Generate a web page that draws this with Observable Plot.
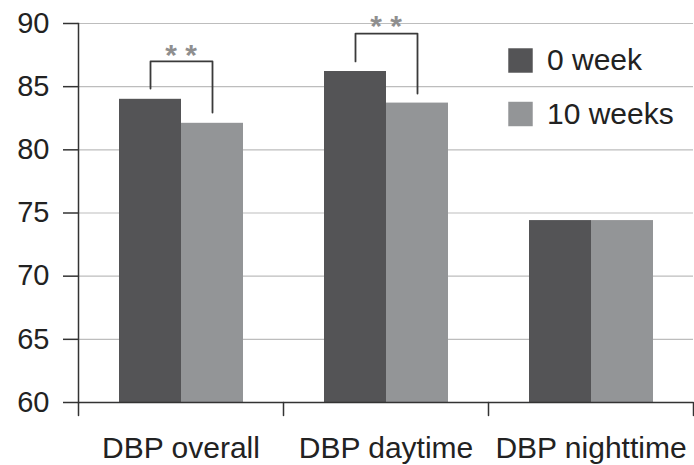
<!DOCTYPE html>
<html><head><meta charset="utf-8">
<script src="https://cdn.jsdelivr.net/npm/d3@7"></script>
<script src="https://cdn.jsdelivr.net/npm/@observablehq/plot@0.6"></script>
<style>
body{margin:0;background:#fff}
svg{font-family:"Liberation Sans",Arial,Helvetica,sans-serif}
</style>
</head><body><div id="chart"></div>
<script>
const categories = ["DBP overall", "DBP daytime", "DBP nighttime"];
const series = ["0 week", "10 weeks"];
const week0 = [84.0, 86.2, 74.4];
const week10 = [82.1, 83.7, 74.4];
const yTicks = [60, 65, 70, 75, 80, 85, 90];
const colors = ["#545456", "#939597"];
const bracketCats = ["DBP overall", "DBP daytime"];
const bracketTop = [87.0, 89.2];
const bracketLeftEnd = [84.85, 87.0];
const bracketRightEnd = [82.95, 84.45];
const starY = [87.5, 89.75];
const starText = ["* *", "* *"];

const bars = categories.flatMap((c, i) => [
  {cat: c, series: series[0], value: week0[i]},
  {cat: c, series: series[1], value: week10[i]}
]);
const bracketPts = bracketCats.flatMap((c, i) => [
  {cat: c, x: series[0], y: bracketLeftEnd[i]},
  {cat: c, x: series[0], y: bracketTop[i]},
  {cat: c, x: series[1], y: bracketTop[i]},
  {cat: c, x: series[1], y: bracketRightEnd[i]}
]);
const stars = bracketCats.map((c, i) => ({cat: c, y: starY[i], t: starText[i]}));
const tickShape = {draw(context, l) { context.moveTo(0, 0); context.lineTo(0, l); }};
const last = categories[categories.length - 1];

const chart = Plot.plot({
  width: 694, height: 465,
  marginLeft: 78, marginRight: 1, marginTop: 23, marginBottom: 63,
  style: {background: "white", fontFamily: "'Liberation Sans', Arial, sans-serif"},
  fx: {domain: categories, padding: 0, label: null, axis: null},
  x: {domain: series, paddingInner: 0, paddingOuter: 0.63, axis: null},
  y: {domain: [yTicks[0], yTicks[yTicks.length - 1]], axis: null},
  color: {domain: series, range: colors},
  marks: [
    Plot.gridY(yTicks, {stroke: "#bdbdbd", strokeOpacity: 1, strokeWidth: 1.2}),
    Plot.barY(bars, {fx: "cat", x: "series", y1: () => yTicks[0], y2: "value", fill: "series"}),
    Plot.line(bracketPts, {fx: "cat", x: "x", y: "y", z: "cat", stroke: "#3a3a3a", strokeWidth: 1.8}),
    Plot.text(stars, {fx: "cat", y: "y", text: "t", frameAnchor: "middle", fontSize: 30, fontWeight: "bold", fill: "#8f8f8f"}),
    Plot.ruleY([yTicks[0]], {stroke: "#333", strokeWidth: 1.5}),
    Plot.frame({anchor: "left", facetAnchor: "left", stroke: "#333", strokeWidth: 1.5}),
    Plot.axisY(yTicks, {tickSize: 15, tickPadding: 14, fontSize: 29, stroke: "#333", strokeWidth: 1.5, fill: "#222", label: null}),
    Plot.axisFx({anchor: "bottom", tickSize: 0, tickPadding: 34, fontSize: 30, fill: "#222", label: null}),
    Plot.vector(categories, {fx: d => d, frameAnchor: "bottom-left", anchor: "start", length: 13, shape: tickShape, stroke: "#333", strokeWidth: 1.5}),
    Plot.vector([last], {fx: d => d, frameAnchor: "bottom-right", anchor: "start", length: 13, shape: tickShape, stroke: "#333", strokeWidth: 1.5}),
    ...series.map((s, i) => Plot.dot([s], {fx: () => last, frameAnchor: "top-left", dx: 32, dy: 37 + i * 53.5, symbol: "square", r: 13.8, fill: d => d})),
    ...series.map((s, i) => Plot.text([s], {fx: () => last, frameAnchor: "top-left", lineAnchor: "middle", dx: 58.5, dy: 37 + i * 53.5, text: d => d, textAnchor: "start", fontSize: 30, fill: "#222"}))
  ]
});
document.getElementById("chart").appendChild(chart);
</script>
</body></html>
